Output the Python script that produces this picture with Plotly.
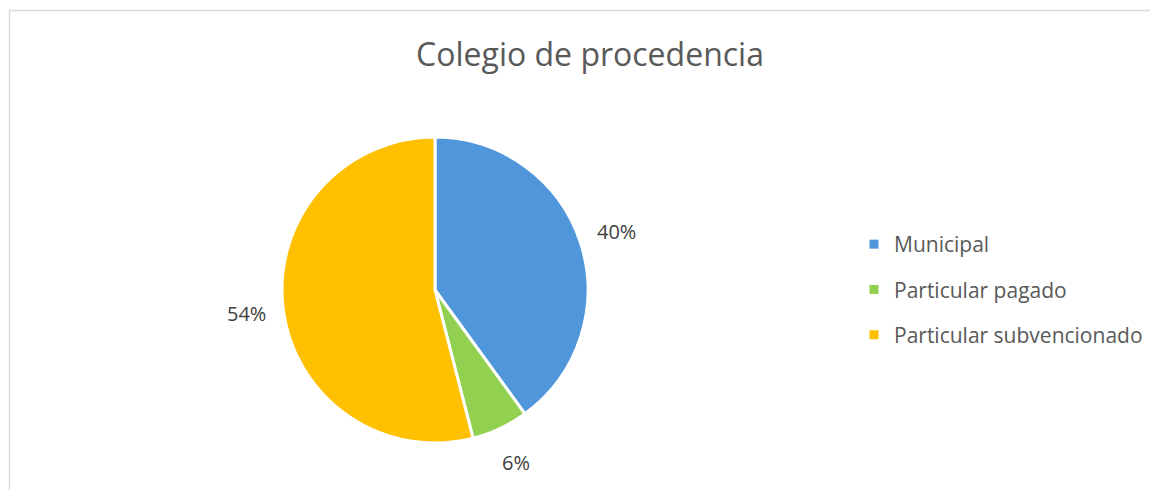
import math
import plotly.graph_objects as go

categories = ["Municipal", "Particular pagado", "Particular subvencionado"]
values = [40, 6, 54]
colors = ["#5096DA", "#92D050", "#FFC000"]
title_text = "Colegio de procedencia"

W, H = 1150, 490
cx, cy, R = 435, 290, 153
FONT = "Open Sans, Lato, sans-serif"

fig = go.Figure()
fig.add_trace(go.Pie(
    labels=categories, values=values, sort=False, direction="clockwise", rotation=0,
    marker=dict(colors=colors, line=dict(color="white", width=3)),
    textinfo="none",
    domain=dict(x=[(cx - R) / W, (cx + R) / W], y=[1 - (cy + R) / H, 1 - (cy - R) / H]),
    showlegend=False, hoverinfo="label+percent",
))

# percentage labels placed at each slice's mid-angle, outside the pie
total = sum(values)
annotations = []
cum = 0
for v in values:
    mid = (cum + v / 2) / total * 2 * math.pi
    cum += v
    rr = 1.245 * R
    px = cx + rr * math.sin(mid)
    py = cy - rr * math.cos(mid)
    annotations.append(dict(
        x=px / W, y=1 - py / H, xref="paper", yref="paper", showarrow=False,
        text=f"{round(v / total * 100)}%", xanchor="center", yanchor="middle",
        font=dict(size=20, color="#404040", family=FONT)))

for i, (c, col) in enumerate(zip(categories, colors)):
    fig.add_trace(go.Scatter(
        x=[None], y=[None], mode="markers", name=c, legendgroup=f"g{i}",
        marker=dict(symbol="square", size=9, color=col), showlegend=True,
    ))

fig.update_layout(
    width=W, height=H, margin=dict(l=0, r=0, t=0, b=0),
    paper_bgcolor="white", plot_bgcolor="white",
    xaxis=dict(visible=False), yaxis=dict(visible=False),
    title=dict(text=title_text, x=590 / W, xanchor="center", y=1 - 55 / H, yanchor="middle",
               font=dict(size=32, color="#595959", family=FONT)),
    legend=dict(x=854 / W, xanchor="left", y=1 - 224 / H, yanchor="top",
                font=dict(size=21, color="#595959", family=FONT),
                tracegroupgap=15, itemwidth=30, bgcolor="rgba(0,0,0,0)"),
    annotations=annotations,
    shapes=[dict(type="rect", xref="paper", yref="paper", x0=9.5 / W, x1=1.05, y0=-0.05,
                 y1=1 - 10.5 / H, line=dict(color="#D9D9D9", width=1.5))],
)

fig.write_html("out.html", post_script="document.body.style.margin='0';",
               config={"displayModeBar": False})
